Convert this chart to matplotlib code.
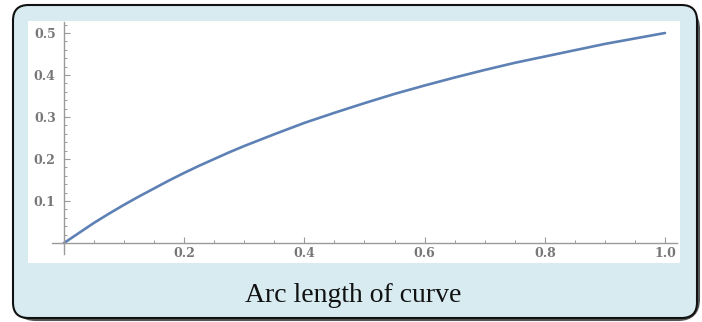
import matplotlib
matplotlib.use("Agg")
import matplotlib.pyplot as plt
from matplotlib.patches import FancyBboxPatch, Rectangle
from matplotlib.ticker import FixedLocator

# Data
x_vals = [0.0, 0.025, 0.05, 0.075, 0.1, 0.125, 0.15, 0.175, 0.2, 0.225, 0.25, 0.275, 0.3,
          0.35, 0.4, 0.45, 0.5, 0.55, 0.6, 0.65, 0.7, 0.75, 0.8, 0.85, 0.9, 0.95, 1.0]
y_vals = [0.0, 0.024, 0.048, 0.070, 0.091, 0.111, 0.130, 0.149, 0.167, 0.184, 0.200, 0.216, 0.231,
          0.259, 0.286, 0.310, 0.333, 0.355, 0.375, 0.394, 0.412, 0.429, 0.444, 0.459, 0.474, 0.487, 0.500]
x_ticks = [0.2, 0.4, 0.6, 0.8, 1.0]
x_tick_labels = ["0.2", "0.4", "0.6", "0.8", "1.0"]
y_ticks = [0.1, 0.2, 0.3, 0.4, 0.5]
y_tick_labels = ["0.1", "0.2", "0.3", "0.4", "0.5"]
caption = "Arc length of curve"

W, H = 702, 322
fig = plt.figure(figsize=(W / 100, H / 100), dpi=100)
fig.patch.set_facecolor("white")

def fx(px):
    return px / W

def fy(py):
    return 1 - py / H

# shadow
shadow = FancyBboxPatch((fx(15), fy(320)), fx(684), (318 - 6) / H,
                        boxstyle="round,pad=0,rounding_size=0.03",
                        transform=fig.transFigure, facecolor="#555555",
                        edgecolor="#555555", linewidth=1.5, zorder=0,
                        mutation_aspect=W / H)
fig.patches.append(shadow)
# outer box
box = FancyBboxPatch((fx(13), fy(318)), fx(684), (318 - 5) / H,
                     boxstyle="round,pad=0,rounding_size=0.022",
                     transform=fig.transFigure, facecolor="#d7ebf0",
                     edgecolor="#111111", linewidth=1.5, zorder=1,
                     mutation_aspect=W / H)
fig.patches.append(box)
# white panel
panel = Rectangle((fx(28), fy(263)), fx(680 - 28), (263 - 21) / H,
                  transform=fig.transFigure, facecolor="white",
                  edgecolor="none", zorder=2)
fig.patches.append(panel)

# axes placement
xmin, xmax = -0.02, 1.02
ymin, ymax = -0.025, 0.527
px_per_x = 601.0
px_per_y = 420.0
x0_px, y0_px = 64.0, 243.0
left_px = x0_px + xmin * px_per_x
right_px = x0_px + xmax * px_per_x
top_px = y0_px - ymax * px_per_y
bot_px = y0_px - ymin * px_per_y
ax = fig.add_axes([fx(left_px), fy(bot_px), fx(right_px - left_px), (bot_px - top_px) / H])
ax.set_zorder(3)
ax.patch.set_visible(False)
ax.set_xlim(xmin, xmax)
ax.set_ylim(ymin, ymax)

ax.plot(x_vals, y_vals, color="#5e81b5", linewidth=1.9, solid_capstyle="round")

for s in ["top", "right"]:
    ax.spines[s].set_visible(False)
for s in ["left", "bottom"]:
    ax.spines[s].set_position(("data", 0))
    ax.spines[s].set_color("#9a9a9a")
    ax.spines[s].set_linewidth(1.0)

ax.set_xticks(x_ticks)
ax.set_xticklabels(x_tick_labels)
ax.set_yticks(y_ticks)
ax.set_yticklabels(y_tick_labels)
ax.xaxis.set_minor_locator(FixedLocator([0.05, 0.1, 0.15, 0.25, 0.3, 0.35, 0.45, 0.5, 0.55,
                                         0.65, 0.7, 0.75, 0.85, 0.9, 0.95]))
ax.yaxis.set_minor_locator(FixedLocator([0.02, 0.04, 0.06, 0.08, 0.12, 0.14, 0.16, 0.18,
                                         0.22, 0.24, 0.26, 0.28, 0.32, 0.34, 0.36, 0.38,
                                         0.42, 0.44, 0.46, 0.48, 0.52]))
ax.tick_params(which="major", direction="in", length=4.5, width=0.8, color="#9a9a9a")
ax.tick_params(which="minor", direction="in", length=2.5, width=0.7, color="#9a9a9a")
ax.tick_params(axis="x", which="major", pad=3)
ax.tick_params(axis="y", which="major", pad=6)
for lbl in ax.get_xticklabels() + ax.get_yticklabels():
    lbl.set_fontfamily("DejaVu Serif")
    lbl.set_fontweight("bold")
    lbl.set_fontsize(9)
    lbl.set_color("#777777")

fig.text(fx(353.5), fy(302), caption, ha="center", va="baseline",
         fontsize=20, family="Liberation Serif", color="#111111", zorder=5)

fig.savefig("out.png", dpi=100)
